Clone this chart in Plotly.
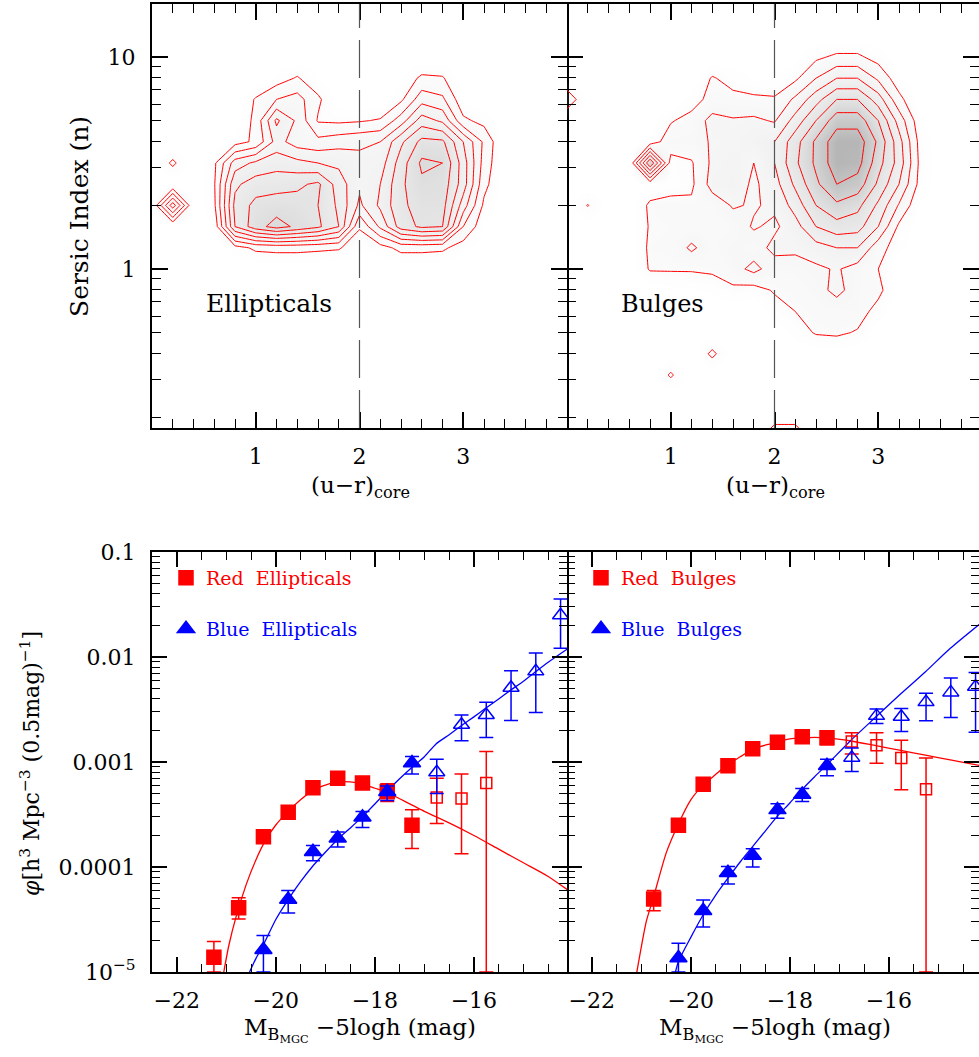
import math
import plotly.graph_objects as go

# ---------------- top panels: density grids -------------
UR_GRID = [0.0, 0.2, 0.4, 0.6, 0.8, 1.0, 1.2, 1.4, 1.6, 1.8, 2.0,
           2.2, 2.4, 2.6, 2.8, 3.0, 3.2, 3.4, 3.6, 3.8, 4.0]
LOGN_GRID = [-0.8, -0.7, -0.6, -0.5, -0.4, -0.3, -0.2, -0.1, 0.0, 0.1, 0.2,
             0.3, 0.4, 0.5, 0.6, 0.7, 0.8, 0.9, 1.0, 1.1, 1.2]
ZR = [0] * 21

ELL_Z = [
    ZR, ZR, ZR, ZR, ZR, ZR, ZR, ZR, ZR,
    [0, 0, 0, 0, 0.6, 1.2, 1.3, 1.3, 1.2, 1.1, 0.4, 0.6, 1.3, 1.3, 1.2, 0.5, 0, 0, 0, 0, 0],
    [0, 0, 0, 0.3, 5.0, 6.6, 7.4, 6.8, 6.2, 5.0, 1.1, 3.2, 5.5, 6.2, 6.0, 2.0, 0.3, 0, 0, 0, 0],
    [0, 4.6, 0, 0.8, 5.3, 6.3, 6.5, 6.4, 6.0, 4.8, 2.8, 4.2, 5.8, 6.4, 6.4, 3.5, 0.8, 0, 0, 0, 0],
    [0, 0, 0, 0.9, 4.8, 5.5, 5.6, 5.8, 6.2, 4.5, 3.2, 4.0, 5.8, 6.8, 6.6, 4.5, 1.3, 0, 0, 0, 0],
    [0, 1.2, 0, 0.8, 3.5, 4.2, 4.6, 4.3, 4.0, 3.8, 3.3, 3.5, 5.5, 7.2, 7.0, 4.5, 1.6, 0, 0, 0, 0],
    [0, 0, 0, 0, 0.6, 1.2, 3.4, 2.5, 2.3, 2.6, 2.8, 3.0, 4.8, 6.3, 6.2, 4.0, 1.8, 0, 0, 0, 0],
    [0, 0, 0, 0, 0, 1.3, 4.2, 2.8, 0.9, 0.8, 0.9, 1.1, 2.5, 4.5, 3.8, 1.2, 0.7, 0, 0, 0, 0],
    [0, 0, 0, 0, 0, 1.1, 2.0, 2.4, 1.2, 0, 0, 0, 0.8, 2.6, 2.2, 0.3, 0, 0, 0, 0, 0],
    [0, 0, 0, 0, 0, 0, 0.5, 1.1, 0.3, 0, 0, 0, 0.3, 1.2, 1.1, 0, 0, 0, 0, 0, 0],
    ZR, ZR, ZR,
]

BUL_Z = [
    [0, 0, 0, 0, 0, 0, 0, 0, 0, 0, 3.0, 3.0, 0, 0, 0, 0, 0, 0, 0, 0, 0],
    ZR, ZR,
    [0, 0, 0, 0, 0, 1.15, 0, 0, 0, 0, 0, 0, 0, 0, 0, 0, 0, 0, 0, 0, 0],
    [0, 0, 0, 0, 0, 0, 0, 1.25, 0, 0, 0, 0, 0, 0, 0, 0, 0, 0, 0, 0, 0],
    [0, 0, 0, 0, 0, 0, 0, 0, 0, 0, 0, 0.5, 1.1, 1.2, 0.9, 0, 0, 0, 0, 0, 0],
    [0, 0, 0, 0, 0, 0, 0, 0, 0, 0, 0.6, 1.0, 1.3, 1.4, 1.5, 0.6, 0, 0, 0, 0, 0],
    [0, 0, 0, 0, 0, 0.2, 0.3, 0.4, 0.8, 0.6, 1.1, 1.3, 1.6, 2.3, 1.5, 1.3, 0, 0, 0, 0, 0],
    [0, 0, 0, 0, 1.1, 1.1, 1.1, 1.2, 1.6, 2.3, 1.5, 1.6, 1.8, 2.1, 1.6, 1.0, 0, 0, 0, 0, 0],
    [0, 0, 0, 0, 1.2, 1.3, 2.2, 1.4, 1.8, 1.5, 2.3, 2.2, 2.6, 3.0, 3.0, 1.4, 0.5, 0, 0, 0, 0],
    [0, 0, 0, 0, 1.1, 1.2, 1.3, 1.3, 1.5, 2.1, 1.8, 2.6, 4.0, 4.6, 4.4, 3.0, 0.8, 0, 0, 0, 0],
    [0, 1.05, 0, 0, 1.2, 1.4, 1.2, 1.4, 2.1, 1.9, 2.2, 3.4, 5.0, 5.8, 5.3, 3.8, 1.9, 0.2, 0, 0, 0],
    [0, 0, 0, 0, 0.3, 0.5, 0.8, 2.4, 2.6, 1.8, 2.6, 4.2, 5.8, 7.0, 6.6, 4.8, 3.0, 0.7, 0, 0, 0],
    [0, 0, 0, 0, 6.0, 0.6, 0.9, 2.2, 2.5, 2.0, 3.0, 4.8, 6.2, 7.6, 7.4, 5.4, 3.6, 0.8, 0, 0, 0],
    [0, 0, 0, 0, 0.4, 1.6, 1.6, 2.1, 2.2, 2.6, 3.0, 4.6, 6.2, 7.6, 7.6, 5.8, 3.4, 0.7, 0, 0, 0],
    [0, 0, 0, 0, 0, 0.9, 1.4, 2.3, 2.1, 2.2, 1.9, 3.4, 5.0, 6.6, 6.6, 5.0, 2.6, 0.4, 0, 0, 0],
    [1.8, 0, 0, 0, 0, 0, 0.5, 1.4, 1.3, 1.2, 1.1, 2.2, 3.6, 5.0, 5.0, 3.5, 1.3, 0, 0, 0, 0],
    [0, 0, 0, 0, 0, 0, 0, 1.1, 0.6, 0.3, 0.4, 0.8, 2.0, 3.0, 3.0, 1.8, 0.4, 0, 0, 0, 0],
    [0, 0, 0, 0, 0, 0, 0, 0, 0, 0, 0, 0.2, 0.8, 1.2, 1.2, 0.6, 0, 0, 0, 0, 0],
    ZR, ZR,
]

COLOR_CUT = 2.0

# ---------------- bottom panels: luminosity functions ----------------
# Ellipticals
RE_M = [-21.25, -20.75, -20.25, -19.75, -19.25, -18.75, -18.25, -17.75, -17.25]
RE_PHI = [1.38e-5, 4.1e-5, 1.94e-4, 3.33e-4, 5.7e-4, 7.0e-4, 6.3e-4, 5.2e-4, 2.5e-4]
RE_HI = [1.95e-5, 5.1e-5, 2.05e-4, 3.7e-4, 6.2e-4, 7.55e-4, 7.1e-4, 6.2e-4, 3.5e-4]
RE_LO = [1e-5, 3.2e-5, 1.72e-4, 2.98e-4, 5.25e-4, 6.45e-4, 5.6e-4, 4.2e-4, 1.5e-4]
REO_M = [-16.75, -16.25, -15.75]
REO_PHI = [4.6e-4, 4.5e-4, 6.3e-4]
REO_HI = [7.0e-4, 7.7e-4, 1.26e-3]
REO_LO = [2.6e-4, 1.34e-4, 1e-5]
BE_M = [-20.25, -19.75, -19.25, -18.75, -18.25, -17.75, -17.25]
BE_PHI = [1.63e-5, 4.9e-5, 1.40e-4, 1.88e-4, 2.98e-4, 5.2e-4, 9.8e-4]
BE_HI = [2.23e-5, 5.98e-5, 1.6e-4, 2.15e-4, 3.38e-4, 5.9e-4, 1.13e-3]
BE_LO = [1e-5, 3.64e-5, 1.15e-4, 1.55e-4, 2.38e-4, 4.3e-4, 7.7e-4]
BEO_M = [-16.75, -16.25, -15.75, -15.25, -14.75, -14.25]
BEO_PHI = [8.0e-4, 2.26e-3, 2.8e-3, 5.1e-3, 7.3e-3, 2.5e-2]
BEO_HI = [1.06e-3, 2.81e-3, 3.71e-3, 7.4e-3, 1.09e-2, 3.57e-2]
BEO_LO = [5.0e-4, 1.59e-3, 1.71e-3, 2.48e-3, 2.96e-3, 1.21e-2]
RE_FIT_M = [-21.05, -20.95, -20.8, -20.6, -20.4, -20.2, -20.0, -19.75, -19.5, -19.25, -19.0,
            -18.75, -18.5, -18.25, -18.0, -17.75, -17.5, -17.0, -16.5, -16.0, -15.5, -15.0,
            -14.5, -14.1]
RE_FIT_LOG = [-5.0, -4.75, -4.47, -4.17, -3.93, -3.74, -3.60, -3.47, -3.36, -3.27, -3.22,
              -3.19, -3.19, -3.21, -3.25, -3.29, -3.35, -3.47, -3.58, -3.70, -3.83, -3.96,
              -4.09, -4.22]
BE_FIT_M = [-20.53, -20.4, -20.25, -20.0, -19.75, -19.5, -19.26, -19.0, -18.76, -18.5, -18.26,
            -18.0, -17.76, -17.5, -17.27, -17.0, -16.77, -16.5, -16.27, -16.0, -15.77, -15.5,
            -15.27, -15.0, -14.78, -14.5, -14.1]
BE_FIT_LOG = [-5.0, -4.87, -4.74, -4.50, -4.31, -4.14, -3.995, -3.86, -3.74, -3.63, -3.525,
              -3.40, -3.28, -3.16, -3.06, -2.95, -2.83, -2.74, -2.66, -2.57, -2.49, -2.40,
              -2.32, -2.23, -2.15, -2.05, -1.92]
# Bulges
RB_M = [-20.75, -20.25, -19.75, -19.25, -18.75, -18.25, -17.75, -17.25]
RB_PHI = [4.95e-5, 2.5e-4, 6.15e-4, 9.2e-4, 1.34e-3, 1.54e-3, 1.74e-3, 1.70e-3]
RB_HI = [5.98e-5, 2.7e-4, 6.7e-4, 9.8e-4, 1.42e-3, 1.62e-3, 1.95e-3, 1.98e-3]
RB_LO = [3.84e-5, 2.3e-4, 5.6e-4, 8.6e-4, 1.25e-3, 1.45e-3, 1.53e-3, 1.46e-3]
RBO_M = [-16.75, -16.25, -15.75, -15.25]
RBO_PHI = [1.57e-3, 1.44e-3, 1.09e-3, 5.5e-4]
RBO_HI = [1.9e-3, 1.9e-3, 1.61e-3, 1.09e-3]
RBO_LO = [1.19e-3, 9.75e-4, 5.43e-4, 1e-5]
BB_M = [-20.25, -19.75, -19.25, -18.75, -18.25, -17.75, -17.25]
BB_PHI = [1.36e-5, 3.84e-5, 8.8e-5, 1.29e-4, 3.5e-4, 4.9e-4, 9.2e-4]
BB_HI = [1.88e-5, 4.84e-5, 1.01e-4, 1.49e-4, 4.0e-4, 5.6e-4, 1.06e-3]
BB_LO = [1e-5, 2.68e-5, 6.87e-5, 1.0e-4, 2.92e-4, 4.2e-4, 7.4e-4]
BBO_M = [-16.75, -16.25, -15.75, -15.25, -14.75, -14.25]
BBO_PHI = [1.10e-3, 2.75e-3, 2.7e-3, 3.72e-3, 4.6e-3, 5.2e-3]
BBO_HI = [1.36e-3, 3.2e-3, 3.24e-3, 4.52e-3, 6.3e-3, 7.1e-3]
BBO_LO = [8.1e-4, 2.32e-3, 1.95e-3, 2.47e-3, 2.65e-3, 1.92e-3]
RB_FIT_M = [-21.09, -20.9, -20.76, -20.5, -20.26, -20.0, -19.75, -19.5, -19.27, -19.0, -18.76,
            -18.5, -18.26, -18.0, -17.76, -17.5, -17.26, -16.76, -16.26, -15.76, -15.26,
            -14.76, -14.1]
RB_FIT_LOG = [-5.0, -4.52, -4.30, -3.87, -3.60, -3.36, -3.22, -3.12, -3.03, -2.95, -2.88,
              -2.84, -2.81, -2.78, -2.77, -2.765, -2.77, -2.80, -2.845, -2.89, -2.935,
              -2.98, -3.04]
BB_FIT_M = [-20.31, -20.25, -20.0, -19.75, -19.5, -19.25, -19.0, -18.76, -18.5, -18.26, -18.0,
            -17.76, -17.5, -17.26, -16.76, -16.26, -15.76, -15.26, -14.76, -14.1]
BB_FIT_LOG = [-5.0, -4.90, -4.67, -4.455, -4.27, -4.107, -3.95, -3.81, -3.66, -3.52, -3.39,
              -3.265, -3.14, -3.03, -2.79, -2.57, -2.35, -2.14, -1.917, -1.66]

RED = "#ff0000"
BLUE = "#0000ff"
FONT = "DejaVu Serif"
W, H = 979, 1057


def fx(p):
    return p / W


def fy(p):
    return 1 - p / H


fig = go.Figure()

# ---- top contours (faint grey shading stands for the point cloud) ----
for z, xa, ya, cs in [
    (ELL_Z, "x", "y", [[0, "rgba(255,255,255,0)"], [0.15, "rgba(200,200,200,0.08)"],
                       [0.6, "rgba(160,160,160,0.18)"], [1, "rgba(120,120,120,0.32)"]]),
    (BUL_Z, "x2", "y2", [[0, "rgba(255,255,255,0)"], [0.15, "rgba(200,200,200,0.10)"],
                         [0.6, "rgba(150,150,150,0.25)"], [1, "rgba(90,90,90,0.5)"]]),
]:
    fig.add_trace(go.Contour(
        x=UR_GRID, y=LOGN_GRID, z=z, xaxis=xa, yaxis=ya,
        contours=dict(start=1, end=7, size=1, coloring="heatmap", showlines=True),
        line=dict(color=RED, width=1, smoothing=0),
        colorscale=cs, zmin=0, zmax=8, zauto=False, showscale=False,
        hoverinfo="skip",
    ))


def err(phi, hi, lo):
    return dict(type="data", symmetric=False,
                array=[h - p for p, h in zip(phi, hi)],
                arrayminus=[p - l for p, l in zip(phi, lo)],
                thickness=1.5, width=7)


def pts(m, phi, hi, lo, color, symbol, size, xa, ya, name=None, legend=None):
    e = err(phi, hi, lo)
    e["color"] = color
    fig.add_trace(go.Scatter(
        x=m, y=phi, mode="markers", xaxis=xa, yaxis=ya,
        marker=dict(symbol=symbol, size=size, color=color, line=dict(color=color, width=1.5)),
        error_y=e, cliponaxis=False,
        name=name or "", showlegend=legend is not None, legend=legend or "legend",
        hoverinfo="skip",
    ))


def fit(m, lg, color, xa, ya):
    fig.add_trace(go.Scatter(
        x=m, y=[10 ** v for v in lg], mode="lines", xaxis=xa, yaxis=ya,
        line=dict(color=color, width=1.3, shape="spline", smoothing=0.6),
        showlegend=False, hoverinfo="skip",
    ))


fit(RE_FIT_M, RE_FIT_LOG, RED, "x3", "y3")
fit(BE_FIT_M, BE_FIT_LOG, BLUE, "x3", "y3")
fit(RB_FIT_M, RB_FIT_LOG, RED, "x4", "y4")
fit(BB_FIT_M, BB_FIT_LOG, BLUE, "x4", "y4")

pts(RE_M, RE_PHI, RE_HI, RE_LO, RED, "square", 14, "x3", "y3",
    "Red\u00a0\u00a0Ellipticals", "legend")
pts(REO_M, REO_PHI, REO_HI, REO_LO, RED, "square-open", 11, "x3", "y3")
pts(BE_M, BE_PHI, BE_HI, BE_LO, BLUE, "triangle-up", 15, "x3", "y3",
    "Blue\u00a0\u00a0Ellipticals", "legend2")
pts(BEO_M, BEO_PHI, BEO_HI, BEO_LO, BLUE, "triangle-up-open", 14, "x3", "y3")
pts(RB_M, RB_PHI, RB_HI, RB_LO, RED, "square", 14, "x4", "y4",
    "Red\u00a0\u00a0Bulges", "legend3")
pts(RBO_M, RBO_PHI, RBO_HI, RBO_LO, RED, "square-open", 11, "x4", "y4")
pts(BB_M, BB_PHI, BB_HI, BB_LO, BLUE, "triangle-up", 15, "x4", "y4",
    "Blue\u00a0\u00a0Bulges", "legend4")
pts(BBO_M, BBO_PHI, BBO_HI, BBO_LO, BLUE, "triangle-up-open", 14, "x4", "y4")

# ---- axes ----
XL = [fx(152), fx(567)]
XR = [fx(567), 1.0]
YT = [fy(428), fy(4)]
YB = [fy(972), fy(552)]
TOP_XMAX = 4.0 * (979 - 567) / 415.0
BOT_XMAX = -22.5 + 8.38 * (979 - 567) / 415.0

common = dict(showline=True, linewidth=2, linecolor="black", mirror="allticks",
              ticks="inside", tickwidth=1.5, tickcolor="black", showgrid=False,
              zeroline=False, automargin=False,
              tickfont=dict(family=FONT, size=22, color="black"))

top_minor_vals = [math.log10(v) for v in [0.2, 0.3, 0.4, 0.5, 0.6, 0.7, 0.8, 0.9,
                                          2, 3, 4, 5, 6, 7, 8, 9]]
bot_minor_vals = [k * 10 ** e for e in (-5, -4, -3, -2) for k in range(2, 10)]

for i, (dom, xmax, left) in enumerate([(XL, 4.0, True), (XR, TOP_XMAX, False)], start=1):
    sfx = "" if i == 1 else str(i)
    fig.layout["xaxis" + sfx] = dict(
        common, domain=dom, range=[0, xmax], tickmode="array", tickvals=[1, 2, 3],
        ticktext=["1", "2", "3"], ticklen=16, anchor="y" + sfx, ticklabelstandoff=8,
        minor=dict(ticks="inside", ticklen=9, tick0=0, dtick=0.2, tickwidth=1.2,
                   tickcolor="black"))
    fig.layout["yaxis" + sfx] = dict(
        common, domain=YT, range=[-0.75, 1.25], tickmode="array", tickvals=[0, 1],
        ticktext=["1", "10"], ticklen=16, anchor="x" + sfx, showticklabels=left,
        ticklabelstandoff=10, linecolor="black" if left else "rgba(0,0,0,0)",
        minor=dict(ticks="inside", ticklen=9, tickmode="array", tickvals=top_minor_vals,
                   tickwidth=1.2, tickcolor="black"))

for i, (dom, xmax, left) in zip([3, 4], [(XL, -14.12, True), (XR, BOT_XMAX, False)]):
    sfx = str(i)
    fig.layout["xaxis" + sfx] = dict(
        common, domain=dom, range=[-22.5, xmax], tickmode="array",
        tickvals=[-22, -20, -18, -16], ticktext=["\u221222", "\u221220", "\u221218", "\u221216"],
        ticklen=15, anchor="y" + sfx, ticklabelstandoff=8,
        minor=dict(ticks="inside", ticklen=8, tick0=0, dtick=0.5, tickwidth=1.2,
                   tickcolor="black"))
    fig.layout["yaxis" + sfx] = dict(
        common, domain=YB, type="log", range=[-5, -1], tickmode="array",
        tickvals=[1e-5, 1e-4, 1e-3, 1e-2, 1e-1],
        ticktext=["10<sup>\u22125</sup>", "0.0001", "0.001", "0.01", "0.1"],
        ticklen=15, anchor="x" + sfx, showticklabels=left, ticklabelstandoff=10,
        linecolor="black" if left else "rgba(0,0,0,0)",
        minor=dict(ticks="inside", ticklen=8, tickmode="array", tickvals=bot_minor_vals,
                   tickwidth=1.2, tickcolor="black"))

# dashed colour cut
for xa, ya in [("x", "y"), ("x2", "y2")]:
    fig.add_shape(type="line", xref=xa, yref=ya + " domain", x0=COLOR_CUT, x1=COLOR_CUT,
                  y0=0, y1=1, line=dict(color="#555555", width=1.2, dash="38px,12px"))

# ---- text ----
ann = []


def text(x, y, s, size=23, color="black", angle=0, xref="paper", yref="paper",
         xanchor="center", yanchor="middle"):
    ann.append(dict(x=x, y=y, xref=xref, yref=yref, text=s, showarrow=False,
                    textangle=angle, xanchor=xanchor, yanchor=yanchor,
                    font=dict(family=FONT, size=size, color=color)))


text(0.5, -0.165, "Ellipticals", 25, xref="x", yref="y", xanchor="left")
text(0.5, -0.165, "Bulges", 24, xref="x2", yref="y2", xanchor="left")
text(fx(80), fy(217), "Sersic Index (n)", 25, angle=-90)
text(fx(30), fy(764), "<i>\u03c6</i>[h<sup>3</sup> Mpc<sup>\u22123</sup> (0.5mag)<sup>\u22121</sup>]",
     22, angle=-90)
for cx in (360, 775):
    text(fx(cx), fy(487), "(u\u2212r)<sub>core</sub>", 23)
    text(fx(cx), fy(1030), "M<sub>B<sub>MGC</sub></sub> \u22125logh (mag)", 23)

legend_common = dict(bgcolor="rgba(0,0,0,0)", borderwidth=0, xanchor="left",
                     yanchor="middle", itemwidth=30)
fig.update_layout(
    width=W, height=H, autosize=False,
    margin=dict(l=0, r=0, t=0, b=0, autoexpand=False),
    paper_bgcolor="white", plot_bgcolor="white",
    annotations=ann,
    legend=dict(legend_common, x=fx(166), y=fy(578), font=dict(family=FONT, size=19, color=RED)),
    legend2=dict(legend_common, x=fx(166), y=fy(629), font=dict(family=FONT, size=19, color=BLUE)),
    legend3=dict(legend_common, x=fx(581), y=fy(578), font=dict(family=FONT, size=19, color=RED)),
    legend4=dict(legend_common, x=fx(581), y=fy(629), font=dict(family=FONT, size=19, color=BLUE)),
)

fig.write_html(
    "out.html",
    post_script="document.documentElement.style.margin='0';document.body.style.margin='0';"
                "document.documentElement.style.overflow='hidden';"
                "document.body.style.overflow='hidden';",
)
